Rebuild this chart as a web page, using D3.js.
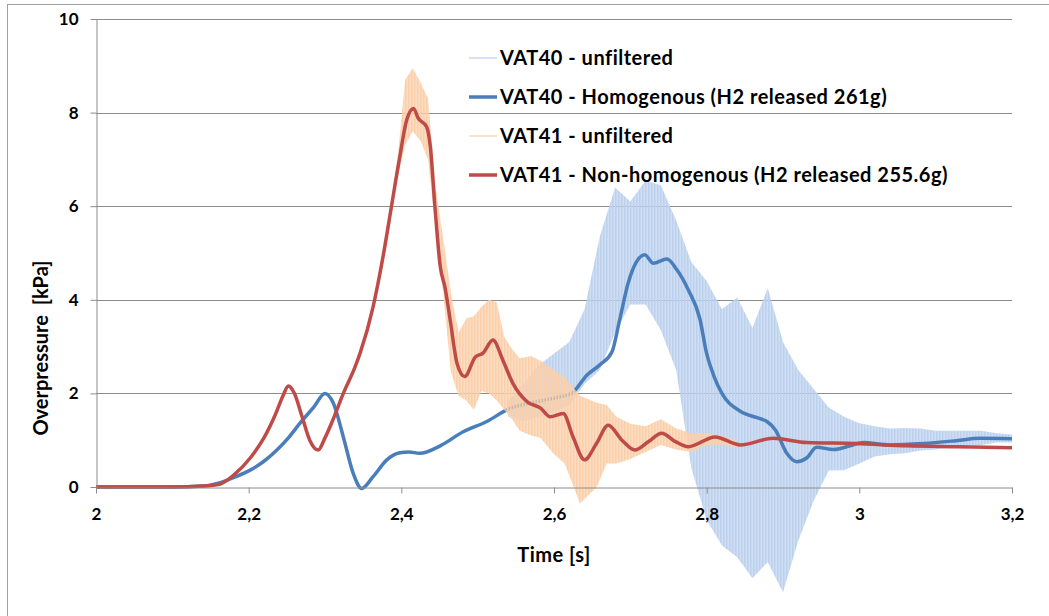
<!DOCTYPE html>
<html><head><meta charset="utf-8">
<script src="https://cdn.jsdelivr.net/npm/d3@7"></script>
<style>
body{margin:0;background:#fff}
svg{display:block}
text{font-family:Lato,"Open Sans",sans-serif;font-weight:bold;fill:#000}
</style></head><body>
<svg id="c" width="1049" height="616"></svg>
<script>
// ---- data ----
const xTickValues = [2, 2.2, 2.4, 2.6, 2.8, 3, 3.2];
const xTickLabels = ["2", "2,2", "2,4", "2,6", "2,8", "3", "3,2"];
const yTickValues = [0, 2, 4, 6, 8, 10];
const yTickLabels = ["0", "2", "4", "6", "8", "10"];

const seriesNames = [
  "VAT40 - unfiltered",
  "VAT40 - Homogenous (H2 released 261g)",
  "VAT41 - unfiltered",
  "VAT41 - Non-homogenous (H2 released 255.6g)"
];

// VAT40 filtered (homogenous)
const vat40Time = [2.00,2.10,2.14,2.166,2.18,2.202,2.22,2.237,2.252,2.267,2.285,2.30,2.311,2.324,2.337,2.348,2.363,2.381,2.398,2.41,2.424,2.451,2.481,2.512,2.542,2.57,2.60,2.623,2.643,2.66,2.676,2.686,2.697,2.708,2.719,2.730,2.748,2.761,2.776,2.791,2.80,2.81,2.82,2.844,2.866,2.879,2.890,2.905,2.918,2.931,2.944,2.966,2.988,3.005,3.04,3.084,3.127,3.158,3.2];
const vat40Value = [0,0,0.02,0.11,0.2,0.36,0.55,0.79,1.05,1.36,1.7,2.0,1.79,1.07,0.29,-0.03,0.22,0.58,0.73,0.75,0.72,0.88,1.18,1.40,1.68,1.8,1.9,2.0,2.39,2.61,2.89,3.57,4.35,4.81,4.96,4.78,4.87,4.64,4.21,3.6,2.85,2.35,2.0,1.62,1.48,1.40,1.22,0.72,0.54,0.62,0.85,0.8,0.88,0.95,0.9,0.93,0.99,1.04,1.03];

// VAT40 unfiltered: envelope of the raw signal
const vat40RawTime = [2.54,2.56,2.58,2.60,2.62,2.64,2.66,2.68,2.70,2.72,2.74,2.76,2.78,2.80,2.82,2.84,2.86,2.88,2.90,2.92,2.94,2.96,2.98,3.00,3.02,3.04,3.06,3.08,3.10,3.12,3.14,3.16,3.18,3.20];
const vat40RawHigh = [1.85,2.2,2.6,2.85,3.1,3.8,5.35,6.4,6.1,6.55,6.45,5.7,4.8,4.4,3.8,4.05,3.4,4.25,3.1,2.5,2.1,1.7,1.5,1.36,1.3,1.25,1.26,1.25,1.2,1.2,1.2,1.2,1.15,1.12];
const vat40RawLow  = [1.5,1.4,1.5,1.6,1.75,2.2,2.5,3.3,3.9,3.9,3.35,2.5,0.4,-0.7,-1.25,-1.5,-1.95,-1.6,-2.25,-1.15,-0.3,0.35,0.36,0.5,0.65,0.7,0.72,0.78,0.8,0.85,0.9,0.9,0.95,0.95];

// VAT41 filtered (non-homogenous)
const vat41Time = [2.00,2.10,2.14,2.162,2.18,2.202,2.22,2.235,2.245,2.252,2.26,2.27,2.28,2.291,2.30,2.312,2.324,2.339,2.346,2.363,2.376,2.387,2.398,2.407,2.416,2.422,2.433,2.438,2.444,2.451,2.457,2.464,2.473,2.483,2.497,2.507,2.52,2.533,2.546,2.565,2.582,2.595,2.612,2.625,2.64,2.656,2.671,2.689,2.706,2.724,2.741,2.759,2.776,2.811,2.844,2.887,2.931,2.996,3.062,3.127,3.2];
const vat41Value = [0,0,0.02,0.06,0.25,0.62,1.05,1.55,1.95,2.16,2.0,1.5,1.0,0.79,1.05,1.5,2.0,2.55,2.86,3.85,4.92,5.99,7.06,7.84,8.09,7.88,7.7,7.27,5.99,4.71,4.28,3.57,2.64,2.36,2.78,2.86,3.14,2.71,2.22,1.82,1.69,1.5,1.57,1.07,0.58,0.94,1.32,1.0,0.79,0.97,1.15,0.97,0.86,1.07,0.9,1.04,0.95,0.93,0.88,0.86,0.84];

// VAT41 unfiltered: envelope of the raw signal
const vat41RawTime = [2.38,2.395,2.405,2.415,2.425,2.435,2.445,2.455,2.465,2.475,2.485,2.495,2.505,2.515,2.525,2.535,2.545,2.555,2.57,2.582,2.60,2.614,2.634,2.656,2.669,2.682,2.70,2.72,2.74,2.76,2.78,2.80,2.82,2.84];
const vat41RawHigh = [5.4,7.0,8.7,8.95,8.65,8.3,6.4,5.3,4.15,3.3,3.6,3.65,3.85,4.0,3.95,3.2,2.95,2.75,2.8,2.7,2.5,2.35,1.95,1.8,1.75,1.5,1.35,1.3,1.45,1.25,1.15,1.15,1.1,0.98];
const vat41RawLow  = [5.1,6.6,7.3,7.6,7.4,7.0,5.5,4.1,2.45,1.95,1.85,1.65,2.05,2.0,1.85,1.65,1.45,1.2,1.1,1.05,0.7,0.5,-0.35,0.0,0.5,0.5,0.6,0.75,0.9,0.8,0.75,0.9,0.9,0.85];

// ---- drawing ----
const svg = d3.select("#c");
const W = 1049, H = 616;
const x = d3.scaleLinear().domain([2, 3.2]).range([96, 1012]);
const y = d3.scaleLinear().domain([0, 10]).range([487, 19]);

const colLightBlue = "#bcd1ee", colBlue = "#4a7ebb", colLightOrange = "#fbcfa9", colRed = "#be4b48";
const gridCol = "#8c8c8c";

// outer chart border
svg.append("rect").attr("x", 7.5).attr("y", 4.5).attr("width", 1100).attr("height", 700)
  .attr("fill", "#fff").attr("stroke", "#a0a0a0").attr("stroke-width", 1);

// stripe patterns for raw signals
const defs = svg.append("defs");
function stripe(id, col) {
  const p = defs.append("pattern").attr("id", id).attr("patternUnits", "userSpaceOnUse")
    .attr("width", 3).attr("height", 10);
  p.append("rect").attr("width", 3).attr("height", 10).attr("fill", col).attr("opacity", 0.7);
  p.append("rect").attr("width", 1.5).attr("height", 10).attr("fill", col);
}
stripe("pb", colLightBlue);
stripe("po", colLightOrange);

// gridlines
svg.append("g").selectAll("line").data(yTickValues.filter(d => d > 0)).join("line")
  .attr("x1", x(2)).attr("x2", x(3.2))
  .attr("y1", d => Math.round(y(d)) + 0.5).attr("y2", d => Math.round(y(d)) + 0.5)
  .attr("stroke", gridCol).attr("stroke-width", 1);

// clip
defs.append("clipPath").attr("id", "clip").append("rect")
  .attr("x", x(2)).attr("y", 0).attr("width", x(3.2) - x(2) + 2).attr("height", H);

const plot = svg.append("g").attr("clip-path", "url(#clip)");

const band = d3.area().x(d => x(d.t)).y0(d => y(d.lo)).y1(d => y(d.hi)).curve(d3.curveLinear);
const line = d3.line().x(d => x(d.t)).y(d => y(d.v)).curve(d3.curveMonotoneX);

const raw40 = vat40RawTime.map((t, i) => ({t, hi: vat40RawHigh[i], lo: vat40RawLow[i]}));
const raw41 = vat41RawTime.map((t, i) => ({t, hi: vat41RawHigh[i], lo: vat41RawLow[i]}));
const f40 = vat40Time.map((t, i) => ({t, v: vat40Value[i]}));
const f41 = vat41Time.map((t, i) => ({t, v: vat41Value[i]}));

plot.append("path").datum(raw40).attr("d", band).attr("fill", "url(#pb)");
plot.append("path").datum(f40).attr("d", line).attr("fill", "none").attr("stroke", colBlue).attr("stroke-width", 3.5).attr("stroke-linejoin", "round");
plot.append("path").datum(raw41).attr("d", band).attr("fill", "url(#po)");
plot.append("path").datum(f41).attr("d", line).attr("fill", "none").attr("stroke", colRed).attr("stroke-width", 3.5).attr("stroke-linejoin", "round");

// axes (on top of the raw band so the labels stay readable)
const yAxis = d3.axisLeft(y).tickValues(yTickValues).tickFormat((d, i) => yTickLabels[i])
  .tickSize(6).tickSizeOuter(0).tickPadding(12);
const xAxis = d3.axisBottom(x).tickValues(xTickValues).tickFormat((d, i) => xTickLabels[i])
  .tickSize(6).tickSizeOuter(0).tickPadding(14);

const gy = svg.append("g").attr("transform", "translate(96.5,0)").call(yAxis);
const gx = svg.append("g").attr("transform", "translate(0,487.5)").call(xAxis);
[gx, gy].forEach(g => {
  g.selectAll("path.domain").attr("stroke", gridCol);
  g.selectAll(".tick line").attr("stroke", gridCol);
  g.selectAll(".tick text").style("font-size", "17px").style("font-family", "Lato, sans-serif").style("font-weight", "bold").attr("fill", "#000");
});

// axis titles
svg.append("text").attr("transform", "translate(48,348) rotate(-90)").attr("text-anchor", "middle")
  .style("font-size", "20px").style("white-space", "pre").text("Overpressure  [kPa]");
svg.append("text").attr("x", 554).attr("y", 562).attr("text-anchor", "middle")
  .style("font-size", "20px").style("letter-spacing", "0.5px").text("Time [s]");

// legend
const legendStyles = [
  {col: colLightBlue, w: 1.2},
  {col: colBlue, w: 3.5},
  {col: colLightOrange, w: 1.2},
  {col: colRed, w: 3.5}
];
const lg = svg.append("g");
seriesNames.forEach((name, i) => {
  const cy = 58 + i * 39;
  lg.append("line").attr("x1", 469).attr("x2", 497).attr("y1", cy).attr("y2", cy)
    .attr("stroke", legendStyles[i].col).attr("stroke-width", legendStyles[i].w);
  lg.append("text").attr("x", 500).attr("y", cy).attr("dy", "0.35em")
    .style("font-size", "20px").style("letter-spacing", "0.5px").text(name);
});
</script></body></html>
